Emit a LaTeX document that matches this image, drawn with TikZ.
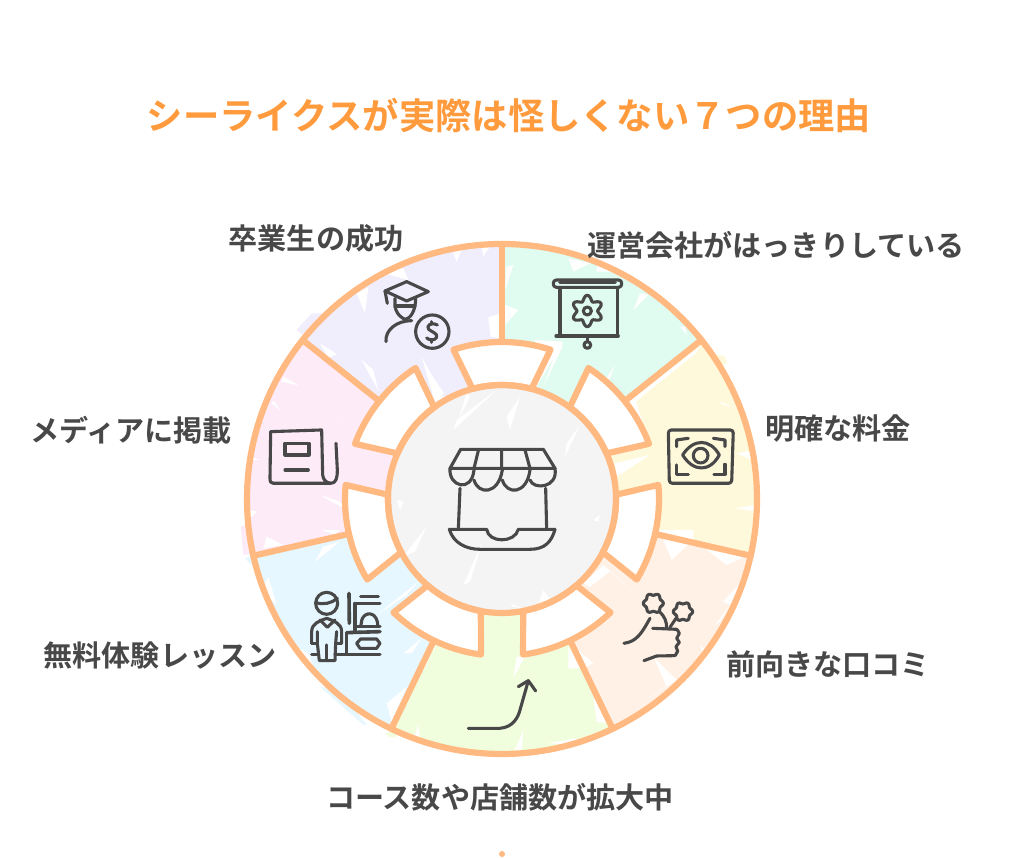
\documentclass[tikz,border=0pt]{standalone}
\usepackage{fontspec}
\setmainfont{Noto Sans CJK JP}
\newfontfamily\jpb{Noto Sans CJK JP}[BoldFont=* Bold]
\definecolor{ringc}{HTML}{FFB981}
\definecolor{titlec}{HTML}{FF9A3D}
\definecolor{inkc}{HTML}{484848}
\definecolor{mintc}{HTML}{E0FBEF}
\definecolor{yelc}{HTML}{FFF9DB}
\definecolor{peachc}{HTML}{FFF1E6}
\definecolor{limec}{HTML}{F1FEDD}
\definecolor{bluec}{HTML}{E6F7FF}
\definecolor{pinkc}{HTML}{FDEBF8}
\definecolor{lavc}{HTML}{F0EEFD}
\definecolor{grayc}{HTML}{F4F4F4}
\tikzset{
  x=1pt,y=1pt,
  ring/.style={draw=ringc,line width=6.2pt,line join=round,line cap=round},
  icon/.style={draw=inkc,line width=3.1pt,line cap=round,line join=round},
  label/.style={font=\jpb\bfseries\fontsize{29.1}{32}\selectfont,text=inkc,inner sep=0pt},
  titlelabel/.style={font=\jpb\bfseries\fontsize{36.3}{40}\selectfont,text=titlec,inner sep=0pt},
  zoomA/.style={shift={(240,628)},xscale=0.3333,yscale=-0.3333},
  zoomB/.style={shift={(500,628)},xscale=0.3333,yscale=-0.3333},
  zoomC/.style={shift={(240,368)},xscale=0.3333,yscale=-0.3333},
  zoomD/.style={shift={(500,368)},xscale=0.3333,yscale=-0.3333},
  zoomE/.style={shift={(430,428)},xscale=0.3333,yscale=-0.3333},
}
\begin{document}
\begin{tikzpicture}
\useasboundingbox (0,0) rectangle (1024,858);
\fill[white] (0,0) rectangle (1024,858);

% bleeding of the sketchy fills past the rim
\begin{scope}[zoomA]
  \fill[lavc] (170,300)--(215,250)--(285,250)--(200,325)--cycle;
\end{scope}
\begin{scope}[zoomB]
  \fill[yelc] (585,365)--(675,378)--(680,400)--(640,420)--cycle;
\end{scope}
\begin{scope}[zoomC]
  \fill[pinkc] (2,110)--(30,100)--(60,190)--(10,195)--cycle;
  \fill[bluec] (15,205)--(60,190)--(225,125)--(60,250)--cycle;
  \fill[bluec] (240,590)--(300,600)--(380,705)--(370,705)--cycle;
  \fill[limec] (435,730)--(470,720)--(470,742)--(450,742)--cycle;
\end{scope}

% sectors
\begin{scope}[shift={(502,359)}]
  \foreach \a/\c in {90/mintc,38.57/yelc,-12.86/peachc,-64.29/limec,-115.71/bluec,-167.14/pinkc,141.43/lavc}{
    \fill[\c] (0,0) -- (\a:255) arc[start angle=\a,delta angle=-51.43,radius=255] -- cycle;
  }
  \fill[grayc] (0,0) circle[radius=114];
\end{scope}

% white brush gaps in the fills
\begin{scope}[zoomA]
  \fill[white] (350,190)--(375,250)--(385,172)--cycle;
  \fill[white] (490,115)--(505,150)--(430,130)--cycle;
  \fill[white] (640,68)--(650,95)--(665,58)--cycle;
  \fill[white] (725,50)--(730,78)--(750,50)--cycle;
  \fill[white] (240,340)--(265,385)--(290,372)--cycle;
  \fill[white] (365,390)--(415,482)--(400,420)--cycle;
  \fill[white] (545,380)--(585,518)--(612,490)--(575,435)--cycle;
  \fill[white] (745,262)--(752,320)--(782,325)--(782,250)--cycle;
  \fill[white] (130,440)--(178,467)--(125,455)--cycle;
  \fill[white] (100,512)--(125,545)--(95,520)--cycle;
  \fill[white] (285,555)--(445,665)--(350,600)--cycle;
  \fill[white] (130,412)--(190,345)--(180,335)--(135,385)--cycle;
  \fill[white] (30,680)--(60,690)--(30,690)--cycle;
  \fill[white] (770,480)--(650,570)--(640,600)--cycle;
  \fill[white] (680,490)--(655,570)--(690,500)--cycle;
  \fill[white] (590,500)--(600,520)--(620,500)--cycle;
\end{scope}
\begin{scope}[zoomB]
  \fill[white] (205,85)--(220,125)--(270,100)--cycle;
  \fill[white] (290,100)--(290,125)--(335,125)--cycle;
  \fill[white] (400,240)--(445,195)--(420,190)--cycle;
  \fill[white] (20,110)--(15,180)--(40,105)--cycle;
  \fill[white] (15,225)--(15,285)--(55,240)--cycle;
  \fill[white] (540,290)--(560,315)--(555,290)--cycle;
  \fill[white] (105,330)--(110,470)--(190,335)--cycle;
  \fill[white] (345,405)--(300,475)--(320,470)--cycle;
  \fill[white] (175,345)--(130,470)--(190,345)--cycle;
  \fill[white] (385,515)--(605,345)--(585,372)--(450,480)--(408,515)--(440,610)--(385,520)--cycle;
  \fill[white] (655,515)--(700,530)--(670,525)--cycle;
  \fill[white] (710,670)--(770,660)--(770,695)--cycle;
  \fill[white] (345,700)--(450,675)--(350,740)--cycle;
  \fill[white] (60,500)--(20,560)--(30,600)--cycle;
  \fill[white] (240,585)--(195,680)--(200,640)--cycle;
\end{scope}
\begin{scope}[zoomD]
  \fill[white] (470,120)--(580,120)--(580,150)--(515,210)--(490,150)--cycle;
  \fill[white] (615,175)--(735,200)--(680,225)--cycle;
  \fill[white] (705,55)--(770,45)--(770,65)--cycle;
  \fill[white] (250,280)--(310,225)--(405,310)--(330,245)--(270,290)--cycle;
  \fill[white] (720,280)--(670,335)--(690,345)--cycle;
  \fill[white] (690,345)--(645,405)--(660,395)--cycle;
  \fill[white] (600,465)--(625,490)--(610,490)--cycle;
  \fill[white] (460,500)--(500,590)--(530,570)--cycle;
  \fill[white] (440,630)--(525,570)--(500,585)--cycle;
  \fill[white] (210,460)--(280,520)--(260,530)--cycle;
  \fill[white] (205,470)--(205,535)--(245,535)--cycle;
  \fill[white] (280,620)--(290,695)--(325,700)--cycle;
  \fill[white] (50,500)--(40,565)--(75,500)--cycle;
  \fill[white] (70,720)--(45,780)--(65,785)--cycle;
  \fill[white] (145,760)--(225,745)--(260,765)--cycle;
  \fill[white] (350,60)--(355,110)--(345,155)--cycle;
  \fill[white] (295,95)--(280,90)--(300,75)--cycle;
  \fill[white] (30,340)--(70,355)--(40,350)--cycle;
  \fill[white] (130,300)--(115,345)--(160,340)--cycle;
\end{scope}
\begin{scope}[zoomC]
  \fill[white] (80,140)--(130,165)--(70,175)--cycle;
  \fill[white] (240,15)--(320,60)--(300,35)--cycle;
  \fill[white] (225,215)--(300,155)--(250,170)--cycle;
  \fill[white] (245,120)--(300,120)--(285,135)--cycle;
  \fill[white] (30,60)--(50,65)--(30,85)--cycle;
  \fill[white] (85,260)--(65,300)--(110,345)--cycle;
  \fill[white] (170,470)--(220,530)--(205,490)--cycle;
  \fill[white] (440,640)--(500,590)--(455,695)--cycle;
  \fill[white] (490,490)--(545,445)--(515,490)--cycle;
  \fill[white] (410,375)--(535,275)--(500,315)--cycle;
  \fill[white] (560,110)--(490,200)--(525,185)--cycle;
  \fill[white] (470,30)--(490,35)--(480,60)--cycle;
  \fill[white] (730,150)--(670,285)--(690,275)--cycle;
  \fill[white] (555,480)--(585,480)--(585,465)--(555,535)--cycle;
  \fill[white] (535,705)--(520,745)--(540,745)--cycle;
\end{scope}

% windows and ring
\begin{scope}[shift={(502,359)}]
  \foreach \a in {90,38.57,-12.86,-64.29,-115.71,-167.14,141.43}{
    \draw[ring] (\a:255) -- (\a:157);
    \draw[ring,fill=white] ({\a+18}:157) arc[start angle={\a+18},delta angle=-36,radius=157]
       -- ({\a-15}:114) arc[start angle={\a-15},delta angle=30,radius=114] -- cycle;
  }
  \draw[ring] (0,0) circle[radius=255];
  \draw[ring] (0,0) circle[radius=114];
\end{scope}

% store
\begin{scope}[zoomE]
  \draw[icon] (60,115)--(92,58)--(340,58)--(375,115)--cycle;
  \draw[icon] (145,62)--(132,115) (215,60)--(215,115) (285,60)--(300,115);
  \draw[icon] (60,115) .. controls (55,170) and (125,190) .. (132,120);
  \draw[icon] (132,150) .. controls (145,195) and (205,195) .. (217,120);
  \draw[icon] (217,150) .. controls (230,195) and (290,195) .. (300,120);
  \draw[icon] (300,150) .. controls (310,180) and (385,175) .. (375,115);
  \draw[icon] (90,175)--(85,298);
  \draw[icon] (347,175)--(350,298);
  \draw[icon] (58,298)--(170,298) .. controls (175,340) and (255,340) .. (265,298) -- (375,298);
  \draw[icon] (58,298) .. controls (70,340) and (110,358) .. (150,358) -- (300,358) .. controls (345,358) and (365,335) .. (375,298);
\end{scope}

% graduate
\begin{scope}[zoomA]
  \draw[icon] (435,183)--(500,155)--(565,185)--(500,213)--cycle;
  \draw[icon] (435,183)--(442,220);
  \draw[icon] (465,205)--(465,230) .. controls (470,255) and (490,268) .. (497,268) .. controls (510,265) and (527,245) .. (527,205);
  \draw[icon] (468,228)--(525,228);
  \draw[icon] (438,335) .. controls (435,300) and (470,272) .. (515,272);
  \draw[icon] (577,305) circle[radius=50];
  \draw[icon] (592,285) .. controls (572,275) and (558,288) .. (566,298) .. controls (575,306) and (594,310) .. (590,322) .. controls (585,333) and (567,331) .. (560,324);
  \draw[icon] (575,275)--(575,282) (575,330)--(575,337);
\end{scope}

% newspaper
\begin{scope}[zoomA]
  \draw[icon] (92,605)--(245,600)--(248,735) .. controls (250,750) and (258,758) .. (272,760) -- (100,760) .. controls (92,760) and (90,755) .. (90,745) -- cycle;
  \draw[icon] (272,760) .. controls (288,760) and (292,745) .. (292,720) -- (288,640);
  \draw[icon] (135,640) rectangle (207,675);
  \draw[icon] (135,720)--(205,720);
\end{scope}

% presentation
\begin{scope}[zoomB]
  \draw[icon,rounded corners=3pt] (160,150) rectangle (365,172);
  \draw[icon,line width=3.6pt] (180,158)--(345,158);
  \draw[icon] (180,172)--(180,318);
  \draw[icon] (352,172)--(352,318);
  \draw[icon] (168,318)--(355,318);
  \draw[icon] (262,318)--(262,335);
  \draw[icon] (262,345) circle[radius=10];
  \draw[icon] (262,243) circle[radius=12];
  \draw[icon,domain=0:360,samples=72,smooth] plot ({262+(39+8*cos(6*\x))*sin(\x)},{243+(39+8*cos(6*\x))*cos(\x)}) -- cycle;
\end{scope}

% eye
\begin{scope}[zoomB]
  \draw[icon,rounded corners=3pt] (505,600)--(700,600)--(695,760)--(508,760)--cycle;
  \draw[icon] (530,650)--(530,630)--(565,625);
  \draw[icon] (640,625)--(675,630)--(675,650);
  \draw[icon] (530,705)--(530,733)--(565,733);
  \draw[icon] (642,733)--(675,733)--(675,703);
  \draw[icon] (548,675) .. controls (580,625) and (630,625) .. (658,675) .. controls (630,727) and (580,727) .. (548,675) -- cycle;
  \draw[icon] (602,677) circle[radius=22];
\end{scope}

% hand with flowers
\begin{scope}[zoomD]
  \draw[icon,domain=0:360,samples=60,smooth] plot ({460+(27+3*cos(6*\x))*cos(\x)},{340+(27+3*cos(6*\x))*sin(\x)}) -- cycle;
  \draw[icon,domain=0:360,samples=60,smooth] plot ({549+(26+3*cos(6*\x))*cos(\x)},{365+(26+3*cos(6*\x))*sin(\x)}) -- cycle;
  \draw[icon] (478,365) .. controls (495,380) and (500,395) .. (500,415);
  \draw[icon] (528,385)--(510,412);
  \draw[icon] (372,460) .. controls (410,455) and (425,430) .. (450,385);
  \draw[icon] (458,415)--(530,418);
  \draw[icon,smooth] plot coordinates {(530,418) (538,430) (530,445) (538,457) (528,470) (533,483) (525,497)};
  \draw[icon] (525,497)--(470,498)--(432,512);
\end{scope}

% rising arrow
\begin{scope}[zoomD]
  \draw[icon] (-95,715)--(0,715) .. controls (40,712) and (55,680) .. (60,660) -- (85,572);
  \draw[icon] (55,590)--(85,572)--(107,603);
\end{scope}

% person and machine
\begin{scope}[zoomC]
  \draw[icon] (260,340) circle[radius=33];
  \draw[icon] (228,338) .. controls (250,345) and (275,340) .. (292,325);
  \draw[icon] (215,460)--(215,425) .. controls (215,400) and (240,392) .. (260,385) .. controls (280,392) and (305,400) .. (305,425) -- (305,460)--(287,460);
  \draw[icon] (215,460)--(232,460);
  \draw[icon] (240,390)--(262,412)--(285,390);
  \draw[icon] (232,425)--(232,460)--(238,512)--(285,512)--(287,460)--(290,425);
  \draw[icon] (260,465)--(260,512);
  \draw[icon] (215,493)--(235,493);
  \draw[icon] (285,493)--(420,493);
  \draw[icon,line width=3.6pt] (327,310)--(328,400);
  \draw[icon] (362,320)--(415,320);
  \draw[icon] (345,340)--(420,340);
  \draw[icon] (345,340)--(345,425);
  \draw[icon] (320,428)--(320,493);
  \draw[icon,line width=3.6pt] (320,428)--(420,425);
  \draw[icon] (362,410)--(366,388) .. controls (375,365) and (405,365) .. (412,395) -- (414,410);
  \draw[icon] (345,410)--(420,410);
  \draw[icon] (350,460)--(362,447)--(410,447)--(420,460)--(410,475)--(360,475)--cycle;
\end{scope}

% labels
\node[titlelabel] (title) at (509,743) {シーライクスが実際は怪しくない７つの理由};
\node[label] (grad) at (316,620) {卒業生の成功};
\node[label] (corp) at (776,613) {運営会社がはっきりしている};
\node[label] (price) at (838,429) {明確な料金};
\node[label] (media) at (131,428) {メディアに掲載};
\node[label] (review) at (828,194) {前向きな口コミ};
\node[label] (trial) at (160,203) {無料体験レッスン};
\node[label] (expand) at (500,61) {コース数や店舗数が拡大中};
\fill[ringc] (502,4) circle[radius=3] coordinate (dot);
\end{tikzpicture}
\end{document}
